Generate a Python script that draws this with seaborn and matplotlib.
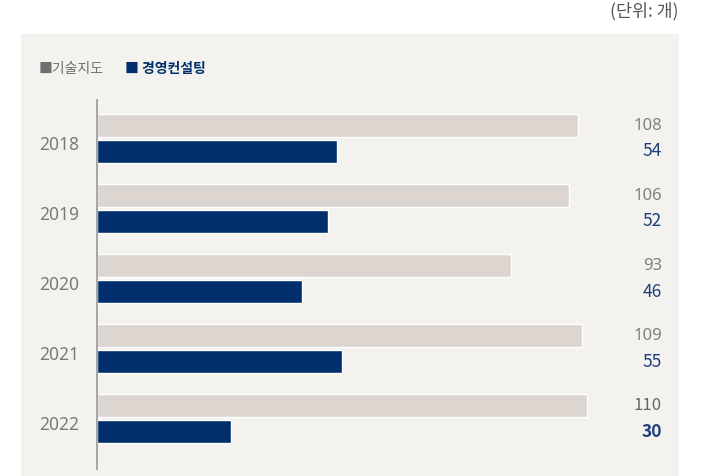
import matplotlib
matplotlib.use("Agg")
import matplotlib.pyplot as plt
import matplotlib.transforms as mtransforms
from matplotlib.patches import Rectangle
import seaborn as sns
import pandas as pd

# Data
years = ["2018", "2019", "2020", "2021", "2022"]
tech_guidance = [108, 106, 93, 109, 110]      # 기술지도
mgmt_consulting = [54, 52, 46, 55, 30]        # 경영컨설팅
series_names = ["기술지도", "경영컨설팅"]

sns.set_style("white")
plt.rcParams["font.family"] = ["Noto Sans CJK KR", "DejaVu Sans"]
NUM_FONT = ["Noto Sans", "DejaVu Sans"]
BOLD_NUM_FONT = ["Noto Sans CJK KR", "DejaVu Sans"]

BEIGE = "#ddd5cf"
NAVY = "#002f6c"
PANEL = "#f3f2ef"

df = pd.DataFrame({
    "year": years * 2,
    "value": tech_guidance + mgmt_consulting,
    "series": [series_names[0]] * len(years) + [series_names[1]] * len(years),
})

W, H = 710, 476
fig = plt.figure(figsize=(W / 100, H / 100), dpi=100)
fig.patch.set_facecolor("white")

# light background panel
fig.patches.append(Rectangle((21 / W, 0), (679 - 21) / W, 1 - 34 / H,
                             transform=fig.transFigure, facecolor=PANEL,
                             edgecolor="none", zorder=-5))

ax_left, ax_right = 97, 661
ax_top, ax_bottom = 100, 469
ax = fig.add_axes([ax_left / W, 1 - ax_bottom / H,
                   (ax_right - ax_left) / W, (ax_bottom - ax_top) / H])
ax.set_facecolor("none")
ax.set_zorder(2)

sns.barplot(data=df, y="year", x="value", hue="series", order=years,
            hue_order=series_names, palette=[BEIGE, NAVY], orient="h",
            width=0.74, gap=0.11, legend=False, ax=ax, saturation=1)

px_per_unit = 4.45
ax.set_xlim(0, (ax_right - ax_left) / px_per_unit)
ax.set_ylim(4.72, -0.55)

for s in ["top", "right", "bottom"]:
    ax.spines[s].set_visible(False)
ax.spines["left"].set_color("#a5a5a5")
ax.spines["left"].set_linewidth(1.4)
ax.set_xticks([])
ax.set_yticks([])
ax.set_xlabel("")
ax.set_ylabel("")

# year labels and value labels
to_fig_x = mtransforms.blended_transform_factory(fig.transFigure, ax.transData)
off = 0.185
for i, yr in enumerate(years):
    last = i == len(years) - 1
    ax.text(79 / W, i + 0.09, yr, transform=to_fig_x, ha="right", va="center",
            fontsize=12.5, color="#7a7a7a", family=NUM_FONT, clip_on=False)
    ax.text(662 / W, i - off, str(tech_guidance[i]), transform=to_fig_x,
            ha="right", va="center", fontsize=12,
            family=BOLD_NUM_FONT if last else NUM_FONT,
            color="#666666" if last else "#808080",
            fontweight="medium" if last else "normal", clip_on=False)
    ax.text(662 / W, i + off, str(mgmt_consulting[i]), transform=to_fig_x,
            ha="right", va="center", fontsize=12.5, color="#1f3f7a",
            family=BOLD_NUM_FONT,
            fontweight="bold" if last else "medium", clip_on=False)

# legend
fig.text(39 / W, 1 - 69 / H, "■" + series_names[0], ha="left", va="center",
         fontsize=10, color="#6f6f6f")
fig.text(125 / W, 1 - 69 / H, "■ " + series_names[1], ha="left", va="center",
         fontsize=10, color=NAVY, fontweight="bold")

# unit note
fig.text(679 / W, 1 - 11 / H, "(단위: 개)", ha="right", va="center",
         fontsize=12.5, color="#555555")

fig.savefig("out.png", dpi=100, facecolor="white")
